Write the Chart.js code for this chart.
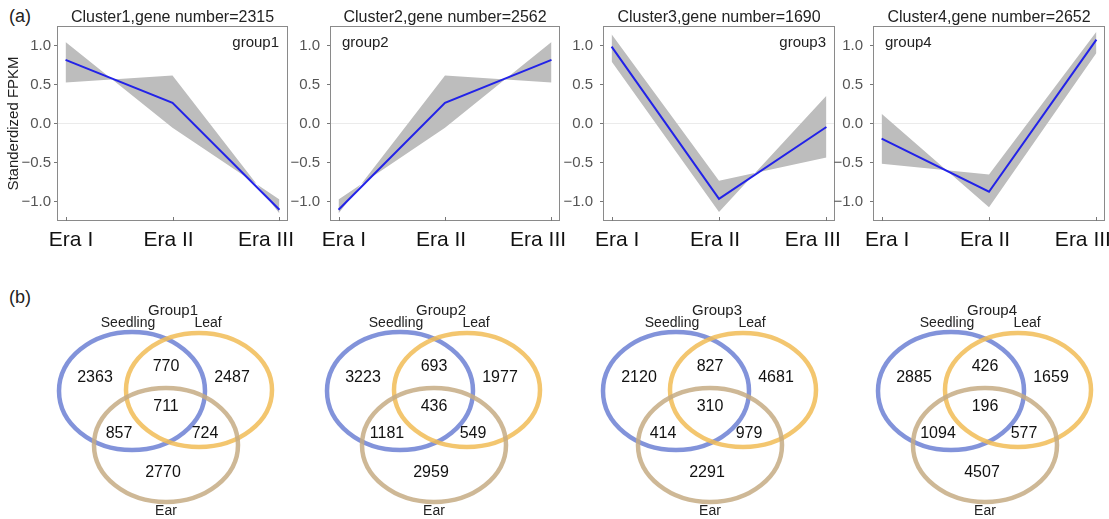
<!DOCTYPE html>
<html>
<head>
<meta charset="utf-8">
<script src="https://cdn.jsdelivr.net/npm/chart.js@4.4.0/dist/chart.umd.min.js"></script>
<style>
  html, body { margin: 0; padding: 0; background: #fff; overflow: hidden; }
  #page { position: relative; width: 1109px; height: 519px; font-family: "Liberation Sans", Arial, sans-serif; }
  .tag { position: absolute; font-size: 18px; color: #222; }
  canvas { position: absolute; }
</style>
</head>
<body>
<div id="page">
  <div class="tag" style="left:9px; top:6px">(a)</div>
  <div class="tag" style="left:9px; top:287px">(b)</div>
</div>
<script>
// ---- data, panel (a) ----
const eras = ["Era I", "Era II", "Era III"];
const clusterTitles = ["Cluster1,gene number=2315", "Cluster2,gene number=2562",
                       "Cluster3,gene number=1690", "Cluster4,gene number=2652"];
const groupTags = ["group1", "group2", "group3", "group4"];
const meanProfile = [
  [0.82, 0.27, -1.10],
  [-1.10, 0.27, 0.82],
  [0.99, -0.96, -0.04],
  [-0.19, -0.87, 1.08]
];
// the grey band is the area between these two profiles
const bandEdgeA = [
  [1.05, -0.05, -0.97],
  [-0.97, -0.05, 1.05],
  [1.15, -0.73, -0.43],
  [0.13, -1.07, 0.91]
];
const bandEdgeB = [
  [0.53, 0.62, -1.15],
  [-1.15, 0.62, 0.53],
  [0.80, -1.13, 0.36],
  [-0.51, -0.65, 1.18]
];
const yTicks = [-1, -0.5, 0, 0.5, 1];

// ---- data, panel (b) ----
const vennTitles = ["Group1", "Group2", "Group3", "Group4"];
const vennSets = ["Seedling", "Leaf", "Ear"];
const seedlingOnly = [2363, 3223, 2120, 2885];
const seedlingLeaf = [770, 693, 827, 426];
const leafOnly = [2487, 1977, 4681, 1659];
const allThree = [711, 436, 310, 196];
const seedlingEar = [857, 1181, 414, 1094];
const leafEar = [724, 549, 979, 577];
const earOnly = [2770, 2959, 2291, 4507];

const FONT = "'Liberation Sans', Arial, sans-serif";
const page = document.getElementById("page");

function makeCanvas(left, top, w, h) {
  const c = document.createElement("canvas");
  c.width = w; c.height = h;
  c.style.left = left + "px"; c.style.top = top + "px";
  c.style.width = w + "px"; c.style.height = h + "px";
  page.appendChild(c);
  return c;
}

// box round the plot, inner x ticks, group tag
const frame = {
  id: "frame",
  afterDatasetsDraw(chart, args, opts) {
    const { ctx, chartArea: a, scales: { x } } = chart;
    ctx.save();
    ctx.strokeStyle = "#8a8a8a";
    ctx.lineWidth = 1;
    ctx.strokeRect(Math.round(a.left) + 0.5, Math.round(a.top) + 0.5,
                   Math.round(a.width) - 1, Math.round(a.height) - 1);
    ctx.strokeStyle = "#777";
    eras.forEach((e, k) => {
      const px = Math.round(x.getPixelForValue(k)) + 0.5;
      ctx.beginPath();
      ctx.moveTo(px, a.bottom);
      ctx.lineTo(px, a.bottom - 4);
      ctx.stroke();
    });
    ctx.font = "15px " + FONT;
    ctx.fillStyle = "#222";
    ctx.textBaseline = "middle";
    if (opts.side === "right") {
      ctx.textAlign = "right";
      ctx.fillText(opts.text, a.right - 9, a.top + 17);
    } else {
      ctx.textAlign = "left";
      ctx.fillText(opts.text, a.left + 12, a.top + 17);
    }
    ctx.restore();
  }
};

const lineLayout = [
  { left: 0,   axisW: 57, boxW: 231, side: "right", tickPad: 3 },
  { left: 285, axisW: 45, boxW: 230, side: "left",  tickPad: 7 },
  { left: 558, axisW: 45, boxW: 232, side: "right", tickPad: 7 },
  { left: 828, axisW: 45, boxW: 232, side: "left",  tickPad: 7 }
];
const LINE_H = 252, PLOT_BOTTOM = 221, RIGHT_PAD = 30;

function pts(arr) { return arr.map((v, k) => ({ x: k, y: v })); }
function yLabel(v) { return (v < 0 ? "\u2212" : "") + Math.abs(v).toFixed(1); }

lineLayout.forEach((L, i) => {
  const w = L.axisW + L.boxW + RIGHT_PAD;
  const cv = makeCanvas(L.left, 0, w, LINE_H);
  new Chart(cv, {
    type: "line",
    data: {
      datasets: [
        { data: pts(bandEdgeA[i]), order: 2, borderWidth: 0, pointRadius: 0, fill: false, backgroundColor: "#bdbdbd" },
        { data: pts(bandEdgeB[i]), order: 1, borderWidth: 0, pointRadius: 0, fill: "-1", backgroundColor: "#bdbdbd" },
        { data: pts(meanProfile[i]), order: 0, borderColor: "#2222e8", borderWidth: 2, pointRadius: 0, fill: false }
      ]
    },
    options: {
      responsive: false,
      animation: false,
      events: [],
      layout: { padding: { left: 0, right: RIGHT_PAD, top: 0, bottom: 0 } },
      plugins: {
        legend: { display: false },
        tooltip: { enabled: false },
        title: {
          display: true, text: clusterTitles[i], fullSize: false,
          font: { size: 16, family: FONT, weight: "normal", lineHeight: 1 }, color: "#222",
          padding: { top: 10, bottom: 0 }
        },
        frame: { text: groupTags[i], side: L.side }
      },
      scales: {
        x: {
          type: "linear", min: -0.08, max: 2.08, display: false
        },
        // the era names sit a little closer together than the ticks in the original
        eraLabels: {
          type: "linear", position: "bottom", axis: "x", min: -0.144, max: 2.226,
          afterBuildTicks: s => { s.ticks = eras.map((e, k) => ({ value: k })); },
          afterFit: s => { s.height = LINE_H - PLOT_BOTTOM; },
          ticks: { callback: v => eras[v], font: { size: 21, family: FONT }, color: "#111",
                   padding: -1, maxRotation: 0, autoSkip: false },
          grid: { display: false },
          border: { display: false }
        },
        y: {
          min: -1.245, max: 1.255,
          afterBuildTicks: s => { s.ticks = yTicks.map(v => ({ value: v })); },
          afterFit: s => { s.width = L.axisW; },
          ticks: { callback: yLabel, font: { size: 15, family: FONT }, color: "#555", padding: L.tickPad },
          grid: {
            color: c => (c.tick && c.tick.value === 0) ? "rgba(0,0,0,0.08)" : "rgba(0,0,0,0)",
            tickColor: "#777", tickLength: 3
          },
          border: { display: false },
          title: {
            display: i === 0, text: "Standerdized FPKM",
            font: { size: 15, family: FONT }, color: "#222", padding: { top: 5, bottom: 0 }
          }
        }
      }
    },
    plugins: [frame]
  });
});

// ---- panel (b): one scatter chart whose hidden axes run in page pixels ----
const V_TOP = 262, V_H = 519 - V_TOP;
const vennCenterX = [132, 400, 676, 951];
const setShapes = [
  { dx: 0,  y: 391, rx: 73, ry: 59, color: "rgba(108,128,212,0.85)" },
  { dx: 67, y: 390, rx: 73, ry: 57, color: "rgba(241,188,86,0.85)" },
  { dx: 34, y: 445, rx: 72, ry: 57, color: "rgba(198,171,132,0.85)" }
];
const setLabelPos = [{ dx: -4, y: 323 }, { dx: 76, y: 323 }, { dx: 34, y: 511 }];
const titlePos = { dx: 41, y: 311 };
const regionPos = [
  { dx: -37, y: 378 }, { dx: 34, y: 367 }, { dx: 100, y: 378 }, { dx: 34, y: 407 },
  { dx: -13, y: 434 }, { dx: 73, y: 434 }, { dx: 31, y: 473 }
];
const regionCounts = [seedlingOnly, seedlingLeaf, leafOnly, allThree, seedlingEar, leafEar, earOnly];

const countPts = [], namePts = [];
vennCenterX.forEach((cx, g) => {
  regionPos.forEach((p, r) => countPts.push({ x: cx + p.dx, y: p.y, text: String(regionCounts[r][g]) }));
  namePts.push({ x: cx + titlePos.dx, y: titlePos.y, text: vennTitles[g], size: 15 });
  vennSets.forEach((s, k) => namePts.push({ x: cx + setLabelPos[k].dx, y: setLabelPos[k].y, text: s, size: 14 }));
});

const venn = {
  id: "venn",
  beforeDatasetsDraw(chart) {
    const { ctx, scales: { x, y } } = chart;
    ctx.save();
    ctx.lineWidth = 4.5;
    vennCenterX.forEach(cx => {
      setShapes.forEach(s => {
        const px = x.getPixelForValue(cx + s.dx), py = y.getPixelForValue(s.y);
        const rx = Math.abs(x.getPixelForValue(cx + s.dx + s.rx) - px);
        const ry = Math.abs(y.getPixelForValue(s.y + s.ry) - py);
        ctx.strokeStyle = s.color;
        ctx.beginPath();
        ctx.ellipse(px, py, rx, ry, 0, 0, Math.PI * 2);
        ctx.stroke();
      });
    });
    ctx.restore();
  },
  afterDatasetsDraw(chart) {
    const { ctx } = chart;
    ctx.save();
    ctx.textAlign = "center";
    ctx.textBaseline = "middle";
    chart.data.datasets.forEach((ds, d) => {
      chart.getDatasetMeta(d).data.forEach((el, k) => {
        const raw = ds.data[k];
        ctx.font = (raw.size || 16) + "px " + FONT;
        ctx.fillStyle = ds.textColor;
        ctx.fillText(raw.text, el.x, el.y);
      });
    });
    ctx.restore();
  }
};

new Chart(makeCanvas(0, V_TOP, 1109, V_H), {
  type: "scatter",
  data: {
    datasets: [
      { data: countPts, pointRadius: 0, textColor: "#111" },
      { data: namePts, pointRadius: 0, textColor: "#222" }
    ]
  },
  options: {
    responsive: false,
    animation: false,
    events: [],
    layout: { padding: 0 },
    plugins: { legend: { display: false }, tooltip: { enabled: false } },
    scales: {
      x: { type: "linear", min: 0, max: 1109, display: false },
      y: { type: "linear", min: V_TOP, max: 519, reverse: true, display: false }
    }
  },
  plugins: [venn]
});
</script>
</body>
</html>
